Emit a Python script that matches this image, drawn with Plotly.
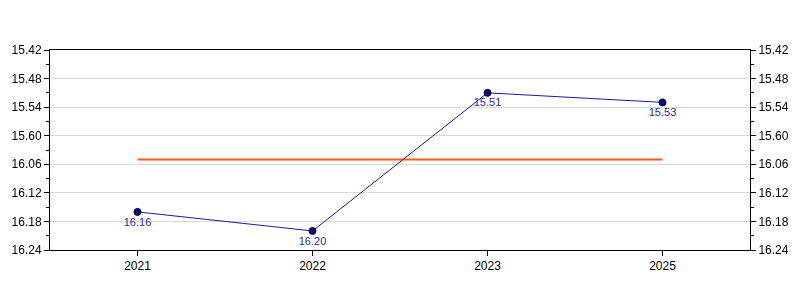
import plotly.graph_objects as go

years = ["2021", "2022", "2023", "2025"]
times = ["16.16", "16.20", "15.51", "15.53"]   # minutes.seconds
avg_time = "16.05"
tick_labels = ["15.42", "15.48", "15.54", "15.60", "16.06", "16.12", "16.18", "16.24"]
tick_secs = [942, 948, 954, 960, 966, 972, 978, 984]


def to_sec(s):
    m, sec = s.split(".")
    return int(m) * 60 + int(sec)


y_vals = [to_sec(t) for t in times]
avg_sec = to_sec(avg_time)
y_range = [tick_secs[-1], tick_secs[0]]

fig = go.Figure()
fig.add_trace(go.Scatter(
    x=years, y=y_vals, yaxis="y2", mode="markers", opacity=0,
    hoverinfo="skip", showlegend=False))
fig.add_trace(go.Scatter(
    x=[years[0], years[-1]], y=[avg_sec, avg_sec], mode="lines",
    line=dict(color="#ff5a14", width=2), hoverinfo="skip", showlegend=False))
fig.add_trace(go.Scatter(
    x=years, y=y_vals, mode="lines+markers+text", text=times,
    textposition="bottom center",
    textfont=dict(family="Liberation Sans, Arial", size=11, color="#2b2ba0"),
    line=dict(color="#1a1a9c", width=1),
    marker=dict(color="#0a0a80", size=7, line=dict(color="#000033", width=1)),
    showlegend=False))

axis_font = dict(family="Liberation Sans, Arial", size=12, color="#000")
yax = dict(
    range=y_range, tickmode="array", tickvals=tick_secs, ticktext=tick_labels,
    ticks="outside", ticklen=5, tickcolor="#000", showline=True, linecolor="#000",
    linewidth=1, showgrid=True, gridcolor="#d9d9d9", gridwidth=1, zeroline=False,
    tickfont=axis_font,
    minor=dict(dtick=3, tick0=942, ticks="outside", ticklen=3, tickcolor="#000", showgrid=False),
)
fig.update_layout(
    width=800, height=300, margin=dict(l=50, r=50, t=50, b=50),
    paper_bgcolor="white", plot_bgcolor="white",
    xaxis=dict(type="category", categoryorder="array", categoryarray=years,
               range=[-0.5, 3.5], showline=True, mirror=True,
               linecolor="#000", linewidth=1, ticks="outside", ticklen=5,
               tickcolor="#000", showgrid=False, tickfont=axis_font),
    yaxis=yax,
    yaxis2=dict(yax, overlaying="y", side="right", showgrid=False),
)
fig.write_html("out.html")
